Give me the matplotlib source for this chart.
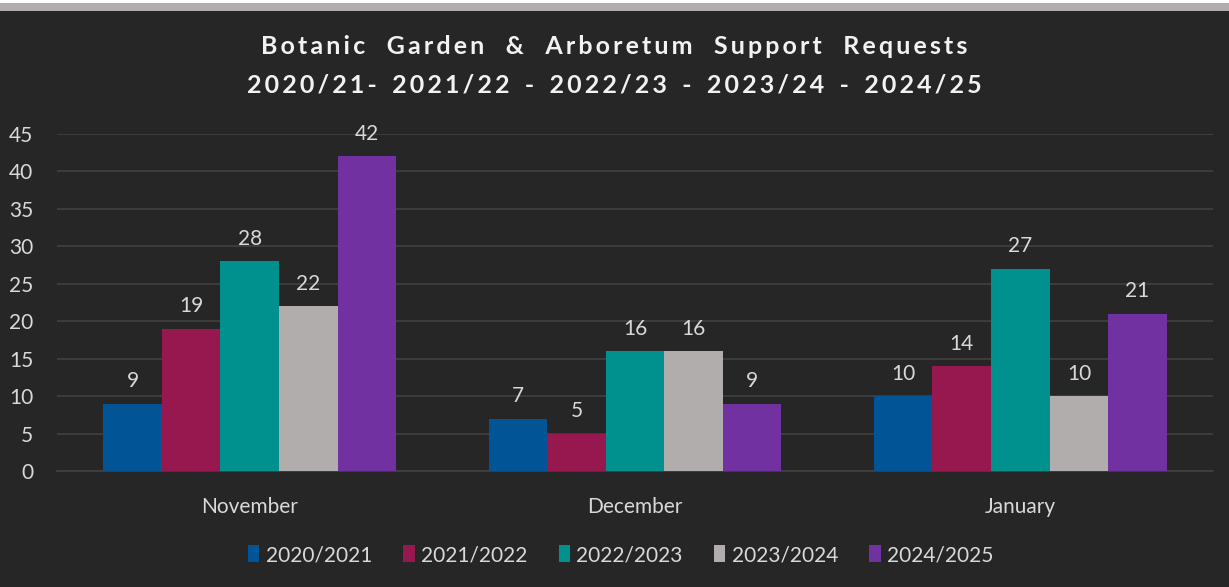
import matplotlib
matplotlib.use("Agg")
import matplotlib.pyplot as plt
import numpy as np
from matplotlib.patches import Rectangle

months = ["November", "December", "January"]
seasons = ["2020/2021", "2021/2022", "2022/2023", "2023/2024", "2024/2025"]
v2020 = [9, 7, 10]
v2021 = [19, 5, 14]
v2022 = [28, 16, 27]
v2023 = [22, 16, 10]
v2024 = [42, 9, 21]
series = [v2020, v2021, v2022, v2023, v2024]
colors = ["#015597", "#97174f", "#00918f", "#b0adac", "#7131a0"]
yticks = [0, 5, 10, 15, 20, 25, 30, 35, 40, 45]
title1 = "Botanic Garden & Arboretum Support Requests"
title2 = "2020/21- 2021/22 - 2022/23 - 2023/24 - 2024/25"

BG = "#262626"
TXT = "#d9d9d9"
FONT = ["Lato", "DejaVu Sans"]
plt.rcParams["font.family"] = FONT


def spaced(s, gap="  "):
    out = []
    for ch in s:
        if ch == " ":
            out.append(gap)
        else:
            out.append(ch + "\u2009")
    return "".join(out).rstrip("\u2009")


fig = plt.figure(figsize=(12.29, 5.87), dpi=100, facecolor=BG)
fig.patches.append(Rectangle((0, 1 - 11 / 587), 1, 8 / 587, transform=fig.transFigure,
                             facecolor="#b0adac", edgecolor="none"))
fig.patches.append(Rectangle((0, 1 - 3 / 587), 1, 3 / 587, transform=fig.transFigure,
                             facecolor="white", edgecolor="none"))

ax = fig.add_axes([57 / 1229, 1 - 471 / 587, (1213 - 57) / 1229, (471 - 134) / 587])
ax.set_facecolor(BG)

x = np.arange(len(months))
w = 0.152
for i, (s, c, lab) in enumerate(zip(series, colors, seasons)):
    pos = x + (i - 2) * w
    ax.bar(pos, s, width=w, color=c, label=lab, zorder=3)
    for xp, v in zip(pos, s):
        ax.annotate(str(v), (xp, v), xytext=(0, 9), textcoords="offset points",
                    ha="center", va="bottom", color=TXT, fontsize=15)

ax.set_xlim(-0.5, 2.5)
ax.set_ylim(0, 45)
ax.set_yticks(yticks)
ax.set_xticks(x)
ax.set_xticklabels(months)
ax.tick_params(axis="both", length=0, colors=TXT, labelsize=15)
ax.tick_params(axis="x", pad=19)
ax.tick_params(axis="y", pad=17)
ax.grid(axis="y", color="#414141", linewidth=1.2, zorder=0)
for sp in ["top", "right", "left"]:
    ax.spines[sp].set_visible(False)
ax.spines["bottom"].set_color("#414141")
ax.spines["bottom"].set_linewidth(1.2)

fig.text(0.5, 1 - 47 / 587, spaced(title1, "   "),
         ha="center", va="center", color="#f2f2f2", fontsize=18, fontweight="bold")
fig.text(0.5, 1 - 85 / 587, spaced(title2),
         ha="center", va="center", color="#f2f2f2", fontsize=18, fontweight="bold")

fig.legend(loc="center", bbox_to_anchor=(0.505, 1 - 555 / 587), ncol=5, frameon=False,
           fontsize=15, labelcolor=TXT, handlelength=0.55, handleheight=0.9,
           handletextpad=0.3, columnspacing=1.5)

fig.savefig("out.png", dpi=100, facecolor=BG)
